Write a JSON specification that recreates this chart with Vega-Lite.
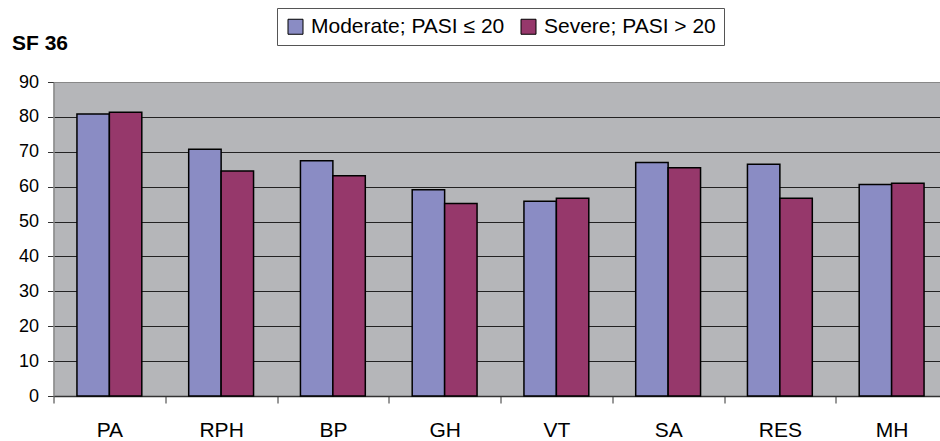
{
  "$schema": "https://vega.github.io/schema/vega-lite/v6.json",
  "autosize": "none",
  "padding": {"left": 53.5, "top": 82, "right": 0, "bottom": 45},
  "width": 886.5,
  "height": 314,
  "background": "white",
  "config": {
    "font": "Liberation Sans",
    "view": {"fill": "#B5B6B9", "stroke": null}
  },
  "title": {
    "text": "SF 36",
    "anchor": "start",
    "frame": "group",
    "fontSize": 21,
    "fontWeight": "bold",
    "color": "#000000",
    "baseline": "alphabetic",
    "offset": 0,
    "dx": -41.5,
    "dy": 63
  },
  "data": {
    "values": [
      {"cat": "PA", "group": "Moderate; PASI ≤ 20", "value": 80.8},
      {"cat": "PA", "group": "Severe; PASI > 20", "value": 81.3},
      {"cat": "RPH", "group": "Moderate; PASI ≤ 20", "value": 70.7},
      {"cat": "RPH", "group": "Severe; PASI > 20", "value": 64.5},
      {"cat": "BP", "group": "Moderate; PASI ≤ 20", "value": 67.4},
      {"cat": "BP", "group": "Severe; PASI > 20", "value": 63.1},
      {"cat": "GH", "group": "Moderate; PASI ≤ 20", "value": 59.1},
      {"cat": "GH", "group": "Severe; PASI > 20", "value": 55.2},
      {"cat": "VT", "group": "Moderate; PASI ≤ 20", "value": 55.8},
      {"cat": "VT", "group": "Severe; PASI > 20", "value": 56.7},
      {"cat": "SA", "group": "Moderate; PASI ≤ 20", "value": 66.9},
      {"cat": "SA", "group": "Severe; PASI > 20", "value": 65.4},
      {"cat": "RES", "group": "Moderate; PASI ≤ 20", "value": 66.4},
      {"cat": "RES", "group": "Severe; PASI > 20", "value": 56.7},
      {"cat": "MH", "group": "Moderate; PASI ≤ 20", "value": 60.6},
      {"cat": "MH", "group": "Severe; PASI > 20", "value": 61.0}
    ]
  },
  "mark": {"type": "bar", "stroke": "#000000", "strokeWidth": 1.5},
  "encoding": {
    "x": {
      "field": "cat",
      "type": "nominal",
      "sort": ["PA", "RPH", "BP", "GH", "VT", "SA", "RES", "MH"],
      "scale": {"range": [0, 894], "paddingInner": 0, "paddingOuter": 0},
      "axis": {
        "title": null,
        "labelAngle": 0,
        "labelFontSize": 21,
        "labelColor": "#000000",
        "labelPadding": 16,
        "tickBand": "extent",
        "tickSize": 7,
        "tickColor": "#333333",
        "domainColor": "#333333",
        "domainWidth": 1.5,
        "grid": false
      }
    },
    "xOffset": {
      "field": "group",
      "type": "nominal",
      "sort": ["Moderate; PASI ≤ 20", "Severe; PASI > 20"],
      "scale": {"paddingInner": 0, "paddingOuter": 0.723}
    },
    "y": {
      "field": "value",
      "type": "quantitative",
      "scale": {"domain": [0, 90], "nice": false, "zero": true},
      "axis": {
        "title": null,
        "values": [0, 10, 20, 30, 40, 50, 60, 70, 80, 90],
        "labelFontSize": 18,
        "labelColor": "#000000",
        "labelPadding": 9,
        "tickSize": 6,
        "tickColor": "#333333",
        "domainColor": "#888888",
        "domainWidth": 1.5,
        "grid": true,
        "gridColor": {"condition": {"test": "datum.value == 90", "value": "#888888"}, "value": "#222222"},
        "gridWidth": 1.2
      }
    },
    "color": {
      "field": "group",
      "type": "nominal",
      "sort": ["Moderate; PASI ≤ 20", "Severe; PASI > 20"],
      "scale": {
        "domain": ["Moderate; PASI ≤ 20", "Severe; PASI > 20"],
        "range": ["#8A8CC4", "#96386B"]
      },
      "legend": {
        "title": null,
        "orient": "none",
        "legendX": 223.5,
        "legendY": -74,
        "direction": "horizontal",
        "fillColor": "#FFFFFF",
        "strokeColor": "#555555",
        "padding": 8,
        "symbolType": "square",
        "symbolSize": 225,
        "symbolStrokeColor": "#000000",
        "symbolStrokeWidth": 1,
        "symbolOpacity": 1,
        "labelFontSize": 21,
        "labelColor": "#000000",
        "labelOffset": 5,
        "labelLimit": 400,
        "columnPadding": 13
      }
    }
  }
}
